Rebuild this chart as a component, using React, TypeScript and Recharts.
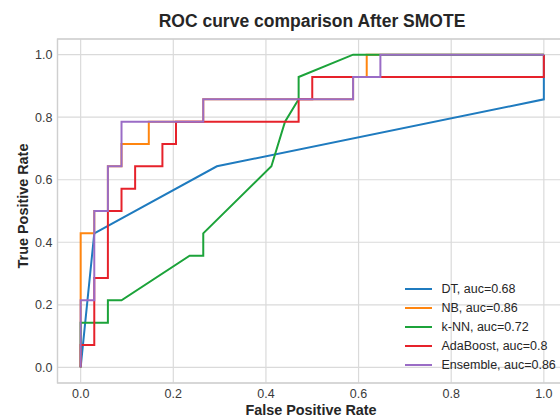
import React from "react";
import {
  LineChart,
  Line,
  XAxis,
  YAxis,
  CartesianGrid,
  ReferenceArea,
} from "recharts";

// ROC points (34 negatives, 14 positives in the test set)
const dtFpr = [0, 0.0294, 0.2941, 1, 1];
const dtTpr = [0, 0.4286, 0.6429, 0.8571, 1];

const nbFpr = [0, 0, 0.0294, 0.0294, 0.0588, 0.0588, 0.0882, 0.0882, 0.1471, 0.1471, 0.2647, 0.2647, 0.5882, 0.5882, 0.6176, 0.6176, 1];
const nbTpr = [0, 0.4286, 0.4286, 0.5, 0.5, 0.6429, 0.6429, 0.7143, 0.7143, 0.7857, 0.7857, 0.8571, 0.8571, 0.9286, 0.9286, 1, 1];

const knnFpr = [0, 0, 0.0588, 0.0588, 0.0882, 0.2353, 0.2647, 0.2647, 0.4118, 0.4412, 0.4706, 0.4706, 0.5882, 1];
const knnTpr = [0, 0.1429, 0.1429, 0.2143, 0.2143, 0.3571, 0.3571, 0.4286, 0.6429, 0.7857, 0.8571, 0.9286, 1, 1];

const adaFpr = [0, 0, 0.0294, 0.0294, 0.0588, 0.0588, 0.0882, 0.0882, 0.1176, 0.1176, 0.1765, 0.1765, 0.2059, 0.2059, 0.4706, 0.4706, 0.5, 0.5, 1, 1];
const adaTpr = [0, 0.0714, 0.0714, 0.2857, 0.2857, 0.5, 0.5, 0.5714, 0.5714, 0.6429, 0.6429, 0.7143, 0.7143, 0.7857, 0.7857, 0.8571, 0.8571, 0.9286, 0.9286, 1];

const ensFpr = [0, 0, 0.0294, 0.0294, 0.0588, 0.0588, 0.0882, 0.0882, 0.2647, 0.2647, 0.5882, 0.5882, 0.6471, 0.6471, 1];
const ensTpr = [0, 0.2143, 0.2143, 0.5, 0.5, 0.6429, 0.6429, 0.7857, 0.7857, 0.8571, 0.8571, 0.9286, 0.9286, 1, 1];

const seriesNames = ["DT, auc=0.68", "NB, auc=0.86", "k-NN, auc=0.72", "AdaBoost, auc=0.8", "Ensemble, auc=0.86"];
const seriesColors = ["#1f7bbf", "#ff850f", "#1ca33a", "#e6222b", "#9a6cc6"];

const ticks = [0, 0.2, 0.4, 0.6, 0.8, 1.0];

const toPoints = (fpr: number[], tpr: number[]) =>
  fpr.map((x, i) => ({ x, y: tpr[i] }));

const series = [
  toPoints(dtFpr, dtTpr),
  toPoints(nbFpr, nbTpr),
  toPoints(knnFpr, knnTpr),
  toPoints(adaFpr, adaTpr),
  toPoints(ensFpr, ensTpr),
];

const FONT = '"Liberation Sans", Arial, sans-serif';

const XTick = ({ x, y, payload }: any) => (
  <text x={x} y={y + 15} textAnchor="middle" fontSize={12.5} fill="#3a3a3a" fontFamily={FONT}>
    {Number(payload.value).toFixed(1)}
  </text>
);

const YTick = ({ x, y, payload }: any) => (
  <text x={x - 5} y={y + 4.5} textAnchor="end" fontSize={12.5} fill="#3a3a3a" fontFamily={FONT}>
    {Number(payload.value).toFixed(1)}
  </text>
);

export default function App() {
  return (
    <div
      style={{
        position: "absolute",
        left: 0,
        top: 0,
        width: 560,
        height: 417,
        overflow: "hidden",
        background: "#fff",
        fontFamily: FONT,
      }}
    >
      <LineChart
        width={567}
        height={417}
        margin={{ top: 39, right: 0, bottom: 0, left: 7.5 }}
      >
        <CartesianGrid stroke="#dadada" strokeWidth={1.2} />
        <XAxis
          dataKey="x"
          type="number"
          domain={[-0.05, 1.05]}
          ticks={ticks}
          allowDataOverflow
          height={34}
          axisLine={false}
          tickLine={false}
          tickSize={0}
          tickMargin={0}
          tick={<XTick />}
        />
        <YAxis
          type="number"
          domain={[-0.05, 1.05]}
          ticks={ticks}
          allowDataOverflow
          width={50}
          axisLine={false}
          tickLine={false}
          tickSize={0}
          tickMargin={0}
          tick={<YTick />}
        />
        <ReferenceArea
          x1={-0.05}
          x2={1.05}
          y1={-0.05}
          y2={1.05}
          fill="none"
          stroke="#cfcfcf"
          strokeWidth={1.3}
        />
        {series.map((pts, i) => (
          <Line
            key={seriesNames[i]}
            data={pts}
            dataKey="y"
            name={seriesNames[i]}
            type="linear"
            stroke={seriesColors[i]}
            strokeWidth={2}
            dot={false}
            activeDot={false}
            isAnimationActive={false}
          />
        ))}
      </LineChart>

      <svg
        width={560}
        height={417}
        style={{ position: "absolute", left: 0, top: 0, pointerEvents: "none" }}
      >
        <text x={312} y={27} textAnchor="middle" fontSize={17.5} fontWeight="bold" fill="#262626" fontFamily={FONT}>
          ROC curve comparison After SMOTE
        </text>
        <text x={311} y={415} textAnchor="middle" fontSize={14.4} fontWeight="bold" fill="#262626" fontFamily={FONT}>
          False Positive Rate
        </text>
        <text
          transform="translate(27.5,206) rotate(-90)"
          textAnchor="middle"
          fontSize={14.4}
          fontWeight="bold"
          fill="#262626"
          fontFamily={FONT}
        >
          True Positive Rate
        </text>
      </svg>

      <div style={{ position: "absolute", left: 405, top: 280 }}>
        {seriesNames.map((name, i) => (
          <div key={name} style={{ display: "flex", alignItems: "center", height: 18.9 }}>
            <div style={{ width: 27, height: 2, background: seriesColors[i], marginRight: 9.5 }} />
            <span style={{ fontSize: 12.5, color: "#262626", whiteSpace: "nowrap" }}>{name}</span>
          </div>
        ))}
      </div>
    </div>
  );
}
